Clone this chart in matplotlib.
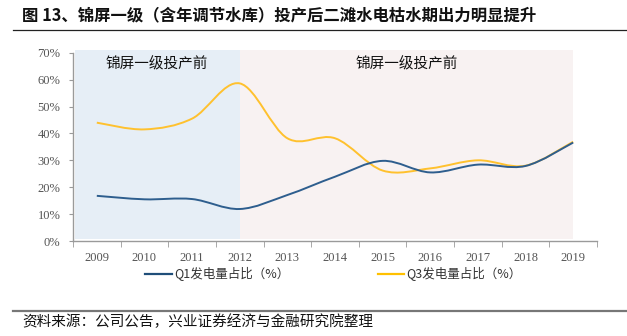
import matplotlib
matplotlib.use("Agg")
import matplotlib.pyplot as plt
from matplotlib.path import Path
from matplotlib.patches import PathPatch
from matplotlib.lines import Line2D
from matplotlib.ticker import FixedLocator, PercentFormatter

plt.rcParams['font.family'] = ['Noto Sans CJK SC', 'DejaVu Sans']

# data
years = ['2009', '2010', '2011', '2012', '2013', '2014', '2015', '2016', '2017', '2018', '2019']
q1_share = [0.168, 0.155, 0.156, 0.119, 0.171, 0.239, 0.298, 0.255, 0.284, 0.279, 0.366]
q3_share = [0.440, 0.415, 0.455, 0.586, 0.382, 0.382, 0.262, 0.270, 0.300, 0.280, 0.369]
q1_label = 'Q1发电量占比（%）'
q3_label = 'Q3发电量占比（%）'
before_label = '锦屏一级投产前'
after_label = '锦屏一级投产前'
title = '图 13、锦屏一级（含年调节水库）投产后二滩水电枯水期出力明显提升'
source = '资料来源：公司公告，兴业证券经济与金融研究院整理'

BLUE = '#2E5E8E'
GOLD = '#FFC12E'
GRAY = '#9A9A9A'
TICK_FONT = 'Liberation Serif'


def smooth_path(xs, ys):
    # excel-like smooth line: cubic bezier through every point
    verts = [(xs[0], ys[0])]
    codes = [Path.MOVETO]
    n = len(xs)
    for i in range(n - 1):
        x0, y0 = xs[max(i - 1, 0)], ys[max(i - 1, 0)]
        x1, y1 = xs[i], ys[i]
        x2, y2 = xs[i + 1], ys[i + 1]
        x3, y3 = xs[min(i + 2, n - 1)], ys[min(i + 2, n - 1)]
        c1 = (x1 + (x2 - x0) / 6, y1 + (y2 - y0) / 6)
        c2 = (x2 - (x3 - x1) / 6, y2 - (y3 - y1) / 6)
        verts += [c1, c2, (x2, y2)]
        codes += [Path.CURVE4] * 3
    return Path(verts, codes)


fig = plt.figure(figsize=(6.27, 3.36), dpi=100)
ax = fig.add_axes([0.1164, 0.2827, 0.8357, 0.5604])
x = list(range(len(years)))

# shaded periods
ax.fill_between([-0.46, 3], 0.007, 0.711, color='#E6EEF6', lw=0, clip_on=False, zorder=0)
ax.fill_between([3, 10], 0.007, 0.711, color='#F8F2F2', lw=0, clip_on=False, zorder=0)
ax.text(1.25, 0.657, before_label, ha='center', va='center', fontsize=10.5, color='#111111')
ax.text(6.51, 0.657, after_label, ha='center', va='center', fontsize=10.5, color='#111111')

ax.add_patch(PathPatch(smooth_path(x, q3_share), fill=False, ec=GOLD, lw=1.4, zorder=3))
ax.add_patch(PathPatch(smooth_path(x, q1_share), fill=False, ec=BLUE, lw=1.4, zorder=3))

ax.set_xlim(-0.5, 10.5)
ax.set_ylim(0, 0.7)
ax.set_xticks(x)
ax.set_xticklabels(years, fontfamily=TICK_FONT, fontsize=9, color='#555555')
ax.xaxis.set_minor_locator(FixedLocator([i - 0.5 for i in range(len(years) + 1)]))
ax.tick_params(axis='x', which='major', length=0, pad=8)
ax.tick_params(axis='x', which='minor', length=4, color=GRAY, direction='out')
ax.set_yticks([i / 10 for i in range(8)])
ax.yaxis.set_major_formatter(PercentFormatter(1.0, decimals=0))
ax.tick_params(axis='y', length=3, color=GRAY, pad=6, labelsize=9, labelcolor='#555555')
for lab in ax.get_yticklabels():
    lab.set_fontfamily(TICK_FONT)
for side in ['top', 'right']:
    ax.spines[side].set_visible(False)
for side in ['left', 'bottom']:
    ax.spines[side].set_color(GRAY)
    ax.spines[side].set_linewidth(1.0)

# legend drawn by hand
W, H = 627, 336
def fx(px):
    return px / W
def fy(py):
    return 1 - py / H

fig.add_artist(Line2D([fx(145), fx(172)], [fy(274), fy(274)], color='#1F4E79', lw=1.6))
fig.text(fx(174), fy(274), q1_label, ha='left', va='center', fontsize=9, color='#333333')
fig.add_artist(Line2D([fx(378), fx(404)], [fy(274), fy(274)], color='#FFC000', lw=1.6))
fig.text(fx(406), fy(274), q3_label, ha='left', va='center', fontsize=9, color='#333333')

# title and source
fig.text(fx(22), fy(15), title, ha='left', va='center', fontsize=11.8, fontweight='bold', color='#111111')
fig.add_artist(Line2D([fx(13), 1.0], [fy(29.5), fy(29.5)], color='#222222', lw=0.9))
fig.add_artist(Line2D([fx(13), 1.0], [fy(311), fy(311)], color='#777777', lw=1.6))
fig.text(fx(22), fy(321.5), source, ha='left', va='center', fontsize=10.5, color='#111111')

fig.savefig('out.png', dpi=100)
